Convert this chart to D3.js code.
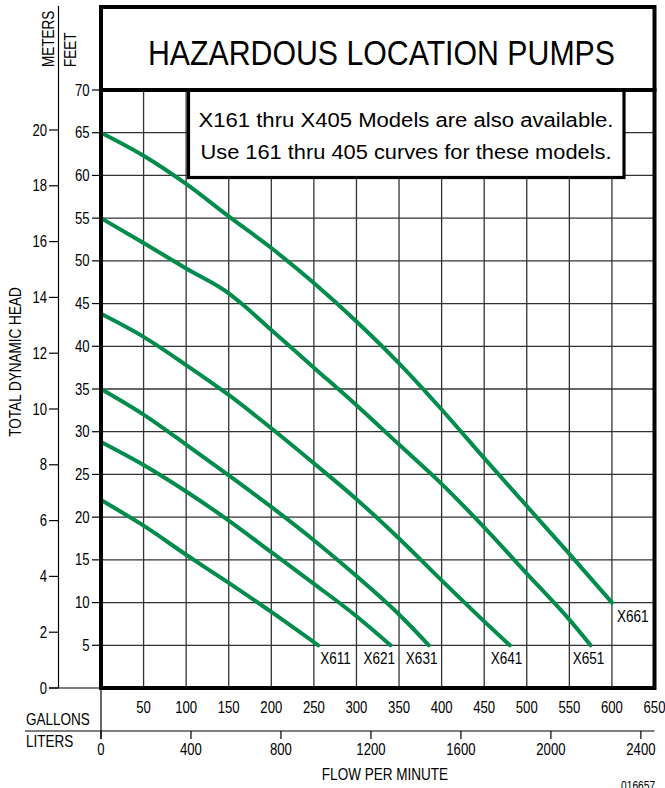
<!DOCTYPE html>
<html>
<head>
<meta charset="utf-8">
<script src="https://cdn.jsdelivr.net/npm/d3@7"></script>
<style>
  html, body { margin: 0; padding: 0; background: #fff; }
  svg { display: block; }
  text { font-family: "Liberation Sans Narrow", "Liberation Sans", Arial, sans-serif; fill: #000; }
</style>
</head>
<body>
<div id="chart"></div>
<script>
// ---------------- data ----------------
const titleText = "HAZARDOUS LOCATION PUMPS";
const noteLines = ["X161 thru  X405 Models are also available.", "Use 161 thru 405 curves for these models."];
const gallonTicks = [50, 100, 150, 200, 250, 300, 350, 400, 450, 500, 550, 600, 650];
const literTicks = [0, 400, 800, 1200, 1600, 2000, 2400];
const feetTicks = [5, 10, 15, 20, 25, 30, 35, 40, 45, 50, 55, 60, 65, 70];
const meterTicks = [0, 2, 4, 6, 8, 10, 12, 14, 16, 18, 20];
const modelNames = ["X611", "X621", "X631", "X641", "X651", "X661"];

const gpm611 = [0, 50, 100, 150, 200, 255];
const head611 = [22, 19, 15.6, 12.3, 8.9, 5];
const gpm621 = [0, 50, 100, 150, 200, 250, 300, 340];
const head621 = [28.8, 26.1, 23, 19.6, 15.9, 12.2, 8.4, 5];
const gpm631 = [0, 50, 100, 150, 200, 250, 300, 350, 385];
const head631 = [35, 32, 28.5, 24.9, 21.2, 17.3, 13.1, 8.6, 5];
const gpm641 = [0, 50, 100, 150, 200, 250, 300, 350, 400, 450, 480];
const head641 = [43.8, 41.1, 37.8, 34.3, 30.4, 26.3, 22.1, 17.5, 12.6, 7.8, 5];
const gpm651 = [0, 50, 100, 150, 165, 200, 250, 300, 350, 400, 450, 500, 550, 575];
const head651 = [55, 52.1, 49.1, 46.2, 45, 41.9, 37.5, 33.1, 28.5, 23.9, 18.8, 13.4, 8, 5];
const gpm661 = [0, 50, 100, 150, 200, 250, 300, 350, 400, 450, 500, 550, 600];
const head661 = [65, 62.3, 59, 55.2, 51.5, 47.4, 42.9, 38, 32.6, 26.9, 21.3, 15.7, 10];

const seriesGpm = [gpm611, gpm621, gpm631, gpm641, gpm651, gpm661];
const seriesHead = [head611, head621, head631, head641, head651, head661];

// ---------------- layout ----------------
const W = 665, H = 788;
const L = 101, R = 654.5, T = 90, B = 688;
const GREEN = "#008c4b";
const GRID = "#333";

const x = d3.scaleLinear().domain([0, 650]).range([L, R]);
const y = d3.scaleLinear().domain([0, 70]).range([B, T]);
const yM = d3.scaleLinear().domain([0, 20]).range([B, 130]);
const xL = d3.scaleLinear().domain([0, 650 * 3.78541]).range([L, R]);

const svg = d3.select("#chart").append("svg").attr("width", W).attr("height", H);

// grid
const grid = svg.append("g");
grid.selectAll("line.v").data(gallonTicks.filter(d => d < 650)).join("line")
  .attr("x1", d => x(d)).attr("x2", d => x(d)).attr("y1", T).attr("y2", B)
  .attr("stroke", GRID).attr("stroke-width", 1.3);
grid.selectAll("line.h").data(feetTicks.filter(d => d < 70)).join("line")
  .attr("x1", L).attr("x2", R).attr("y1", d => y(d)).attr("y2", d => y(d))
  .attr("stroke", GRID).attr("stroke-width", 1.3);

// curves
const line = d3.line().x(d => x(d[0])).y(d => y(d[1])).curve(d3.curveMonotoneX);
const series = modelNames.map((n, i) => ({ name: n, pts: seriesGpm[i].map((g, j) => [g, seriesHead[i][j]]) }));
svg.append("g").selectAll("path").data(series).join("path")
  .attr("d", d => line(d.pts)).attr("fill", "none")
  .attr("stroke", GREEN).attr("stroke-width", 4).attr("stroke-linecap", "round");

// curve labels (offsets relative to end of each curve)
const labelDx = { X611: 2, X621: -27, X631: -23, X641: -19, X651: -18, X661: 5 };
svg.append("g").selectAll("text").data(series).join("text")
  .attr("x", d => x(d.pts[d.pts.length - 1][0]) + labelDx[d.name])
  .attr("y", d => y(d.pts[d.pts.length - 1][1]) + 19)
  .attr("font-size", 16.5).text(d => d.name);

// note box
svg.append("rect").attr("x", 188.5).attr("y", T).attr("width", 435.5).attr("height", 87.5)
  .attr("fill", "#fff").attr("stroke", "#000").attr("stroke-width", 3.2);
const noteWidths = [415, 411];
svg.append("g").selectAll("text").data(noteLines).join("text")
  .attr("class", "fixed")
  .attr("x", 406).attr("y", (d, i) => 127 + i * 31.5).attr("text-anchor", "middle")
  .attr("font-size", 19.5).attr("textLength", (d, i) => noteWidths[i])
  .attr("lengthAdjust", "spacingAndGlyphs").text(d => d);

// plot border
svg.append("rect").attr("x", L).attr("y", T).attr("width", R - L).attr("height", B - T)
  .attr("fill", "none").attr("stroke", "#000").attr("stroke-width", 4);
// title box
svg.append("rect").attr("x", L).attr("y", 7).attr("width", R - L).attr("height", T - 7)
  .attr("fill", "#fff").attr("stroke", "#000").attr("stroke-width", 4);
svg.append("text").attr("class", "fixed").attr("x", 381.5).attr("y", 65).attr("text-anchor", "middle")
  .attr("font-size", 35).attr("textLength", 467).attr("lengthAdjust", "spacingAndGlyphs").text(titleText);

// feet axis
const fa = svg.append("g");
fa.selectAll("line").data(feetTicks).join("line")
  .attr("x1", 92).attr("x2", L).attr("y1", d => y(d)).attr("y2", d => y(d))
  .attr("stroke", "#000").attr("stroke-width", 1.2);
fa.selectAll("text").data(feetTicks).join("text")
  .attr("x", 89.5).attr("y", d => y(d) + 5.5).attr("text-anchor", "end")
  .attr("font-size", 16).text(d => d);

// meter axis
const ma = svg.append("g");
ma.append("line").attr("x1", 58.5).attr("x2", 58.5).attr("y1", 6).attr("y2", B)
  .attr("stroke", "#000").attr("stroke-width", 1.2);
ma.append("line").attr("x1", 49).attr("x2", L).attr("y1", B).attr("y2", B)
  .attr("stroke", "#000").attr("stroke-width", 1.2);
ma.selectAll("line.t").data(meterTicks).join("line")
  .attr("x1", 49).attr("x2", 58.5).attr("y1", d => yM(d)).attr("y2", d => yM(d))
  .attr("stroke", "#000").attr("stroke-width", 1.2);
ma.selectAll("text").data(meterTicks).join("text")
  .attr("x", 47).attr("y", d => yM(d) + 5.5).attr("text-anchor", "end")
  .attr("font-size", 16).text(d => d);

svg.append("text").attr("transform", "translate(53.5,67) rotate(-90)")
  .attr("font-size", 16.5).text("METERS");
svg.append("text").attr("transform", "translate(76,67) rotate(-90)")
  .attr("font-size", 16.5).text("FEET");
svg.append("text").attr("transform", "translate(20.5,362) rotate(-90)")
  .attr("text-anchor", "middle").attr("font-size", 16.5).text("TOTAL DYNAMIC HEAD");

// gallons axis labels
svg.append("g").selectAll("text").data(gallonTicks).join("text")
  .attr("x", d => x(d)).attr("y", 713).attr("text-anchor", "middle")
  .attr("font-size", 16).text(d => d);
svg.append("text").attr("x", 26).attr("y", 725).attr("font-size", 16.5).text("GALLONS");
svg.append("line").attr("x1", L).attr("x2", L).attr("y1", B).attr("y2", 739)
  .attr("stroke", "#000").attr("stroke-width", 1.2);

// liters axis
svg.append("line").attr("x1", 25).attr("x2", R).attr("y1", 731).attr("y2", 731)
  .attr("stroke", "#000").attr("stroke-width", 1.2);
svg.append("g").selectAll("line").data(literTicks).join("line")
  .attr("x1", d => xL(d)).attr("x2", d => xL(d)).attr("y1", 731).attr("y2", 739)
  .attr("stroke", "#000").attr("stroke-width", 1.2);
svg.append("g").selectAll("text").data(literTicks).join("text")
  .attr("x", d => xL(d)).attr("y", 755).attr("text-anchor", "middle")
  .attr("font-size", 16).text(d => d);
svg.append("text").attr("x", 26).attr("y", 747).attr("font-size", 16.5).text("LITERS");

svg.append("text").attr("x", 385).attr("y", 780).attr("text-anchor", "middle")
  .attr("font-size", 16.5).text("FLOW PER MINUTE");
svg.append("text").attr("x", 621).attr("y", 790).attr("font-size", 12.5).text("016657");

// condense all free texts to mimic the narrow typeface of the original
svg.selectAll("text:not(.fixed)").each(function () {
  const w = this.getComputedTextLength();
  this.setAttribute("textLength", (w * 0.82).toFixed(1));
  this.setAttribute("lengthAdjust", "spacingAndGlyphs");
});
</script>
</body>
</html>
